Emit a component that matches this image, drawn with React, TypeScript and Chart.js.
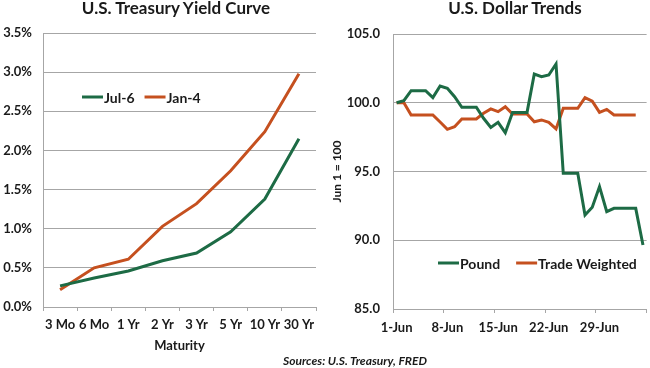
import React, { useEffect, useRef } from 'react';
import { Chart, registerables } from 'chart.js';

Chart.register(...registerables);

// ---------- Data ----------
const maturities = ['3 Mo', '6 Mo', '1 Yr', '2 Yr', '3 Yr', '5 Yr', '10 Yr', '30 Yr'];
const jul6Yields = [0.27, 0.37, 0.46, 0.59, 0.69, 0.96, 1.38, 2.15];
const jan4Yields = [0.22, 0.50, 0.61, 1.03, 1.32, 1.74, 2.24, 2.98];

const days = [
  '1-Jun', '2-Jun', '3-Jun', '4-Jun', '5-Jun', '6-Jun', '7-Jun',
  '8-Jun', '9-Jun', '10-Jun', '11-Jun', '12-Jun', '13-Jun', '14-Jun',
  '15-Jun', '16-Jun', '17-Jun', '18-Jun', '19-Jun', '20-Jun', '21-Jun',
  '22-Jun', '23-Jun', '24-Jun', '25-Jun', '26-Jun', '27-Jun', '28-Jun',
  '29-Jun', '30-Jun', '1-Jul', '2-Jul', '3-Jul', '4-Jul', '5-Jul',
];
const pound = [
  100.0, 100.15, 100.88, 100.88, 100.88, 100.37, 101.22,
  101.05, 100.44, 99.67, 99.67, 99.67, 98.87, 98.21,
  98.58, 97.82, 99.30, 99.30, 99.30, 102.09, 101.90,
  102.02, 102.82, 94.87, 94.87, 94.87, 91.84, 92.40,
  93.90, 92.08, 92.32, 92.32, 92.32, 92.32, 89.65,
];
const tradeWeighted = [
  100.0, 100.0, 99.11, 99.11, 99.11, 99.11, 98.6,
  98.07, 98.26, 98.82, 98.82, 98.82, 99.23, 99.55,
  99.35, 99.71, 99.18, 99.18, 99.18, 98.62, 98.75,
  98.58, 98.10, 99.60, 99.60, 99.60, 100.37, 100.12,
  99.30, 99.52, 99.11, 99.11, 99.11, 99.11, null,
];
const weeklyLabelEvery = 7;

// ---------- Styles ----------
const GREEN = '#1d6b45';
const ORANGE = '#c5501f';
const GRID = '#a6a6a6';
const TXT = '#1a1a1a';
const FONT = 'Lato';

Chart.defaults.font.family = FONT;

const insideLegend = {
  id: 'insideLegend',
  afterDraw(chart: any, _args: any, opts: any) {
    const { ctx, chartArea } = chart;
    ctx.save();
    ctx.font = `bold ${opts.size}px ${FONT}`;
    ctx.textBaseline = 'middle';
    let x = chartArea.left + opts.x;
    const y = chartArea.top + opts.y;
    chart.data.datasets.forEach((ds: any) => {
      ctx.strokeStyle = ds.borderColor;
      ctx.lineWidth = 3;
      ctx.beginPath();
      ctx.moveTo(x, y);
      ctx.lineTo(x + opts.lineLen, y);
      ctx.stroke();
      x += opts.lineLen + 1;
      ctx.fillStyle = TXT;
      ctx.fillText(ds.label, x, y + 1);
      x += ctx.measureText(ds.label).width + opts.gap;
    });
    ctx.restore();
  },
};

function ChartCanvas({ config, left, top, width, height }: any) {
  const ref = useRef<HTMLCanvasElement>(null);
  useEffect(() => {
    const chart = new Chart(ref.current as HTMLCanvasElement, config);
    return () => chart.destroy();
  }, []);
  return (
    <canvas
      ref={ref}
      width={width}
      height={height}
      style={{ position: 'absolute', left, top, width, height }}
    />
  );
}

const tickFont = { size: 13, weight: 'bold' as const };

const yieldConfig: any = {
  type: 'line',
  data: {
    labels: maturities,
    datasets: [
      { label: 'Jul-6', data: jul6Yields, borderColor: GREEN, borderWidth: 3, pointRadius: 0, tension: 0 },
      { label: 'Jan-4', data: jan4Yields, borderColor: ORANGE, borderWidth: 3, pointRadius: 0, tension: 0 },
    ],
  },
  options: {
    responsive: false,
    animation: false,
    layout: { padding: { top: 33, left: 0, right: 9, bottom: 0 } },
    plugins: {
      legend: { display: false },
      tooltip: { enabled: false },
      insideLegend: { x: 39, y: 64, size: 14, lineLen: 21, gap: 10 },
    },
    scales: {
      x: {
        offset: true,
        afterFit: (s: any) => { s.height = 47; },
        grid: { offset: true, drawOnChartArea: false, drawTicks: true, tickLength: 4, color: GRID },
        border: { color: GRID },
        ticks: { padding: 6, color: TXT, font: tickFont, maxRotation: 0, minRotation: 0, autoSkip: false },
        title: { display: true, text: 'Maturity', color: TXT, font: { size: 13, weight: 'bold' }, padding: { top: 2, bottom: 0 } },
      },
      y: {
        min: 0,
        max: 3.5,
        afterFit: (s: any) => { s.width = 43; },
        ticks: {
          stepSize: 0.5,
          padding: 11,
          color: TXT,
          font: tickFont,
          callback: (v: number) => v.toFixed(1) + '%',
        },
        grid: { color: GRID, drawTicks: false },
        border: { color: GRID },
      },
    },
  },
  plugins: [insideLegend],
};

const dollarConfig: any = {
  type: 'line',
  data: {
    labels: days,
    datasets: [
      { label: 'Pound', data: pound, borderColor: GREEN, borderWidth: 3, pointRadius: 0, tension: 0 },
      { label: 'Trade Weighted', data: tradeWeighted, borderColor: ORANGE, borderWidth: 3, pointRadius: 0, tension: 0 },
    ],
  },
  options: {
    responsive: false,
    animation: false,
    layout: { padding: { top: 34, left: 5, right: 2, bottom: 0 } },
    plugins: {
      legend: { display: false },
      tooltip: { enabled: false },
      insideLegend: { x: 45, y: 229, size: 14, lineLen: 21, gap: 16 },
    },
    scales: {
      x: {
        offset: true,
        afterFit: (s: any) => { s.height = 27; },
        grid: {
          offset: true,
          drawOnChartArea: false,
          drawTicks: true,
          tickLength: 4,
          color: (ctx: any) =>
            ctx.index === undefined || ctx.index % weeklyLabelEvery === 0 ? GRID : 'rgba(0,0,0,0)',
        },
        border: { color: GRID },
        ticks: {
          padding: 7,
          color: TXT,
          font: tickFont,
          maxRotation: 0,
          minRotation: 0,
          autoSkip: false,
          callback: (_v: any, i: number) => (i % weeklyLabelEvery === 0 ? days[i] : ''),
        },
      },
      y: {
        min: 85,
        max: 105,
        afterFit: (s: any) => { s.width = 63; },
        ticks: {
          stepSize: 5,
          padding: 13,
          color: TXT,
          font: tickFont,
          callback: (v: number) => v.toFixed(1),
        },
        grid: { color: GRID, drawTicks: false },
        border: { color: GRID },
        title: { display: true, text: 'Jun 1 = 100', color: TXT, font: { size: 12, weight: 'bold' }, padding: { top: 0, bottom: 3 } },
      },
    },
  },
  plugins: [insideLegend],
};

const titleStyle: any = {
  position: 'absolute',
  top: -2,
  width: 300,
  textAlign: 'center',
  fontFamily: FONT,
  fontWeight: 'bold',
  fontSize: 17,
  lineHeight: '20px',
  color: TXT,
};

export default function App() {
  return (
    <div style={{ position: 'absolute', left: 0, top: 0, width: 650, height: 368, overflow: 'hidden', background: '#fff' }}>
      <ChartCanvas config={yieldConfig} left={0} top={0} width={325} height={354} />
      <ChartCanvas config={dollarConfig} left={325} top={0} width={325} height={336} />
      <div style={{ ...titleStyle, left: 176 - 150 }}>U.S. Treasury Yield Curve</div>
      <div style={{ ...titleStyle, left: 515 - 150 }}>U.S. Dollar Trends</div>
      <div
        style={{
          position: 'absolute',
          left: 355 - 150,
          width: 300,
          top: 353,
          textAlign: 'center',
          fontFamily: FONT,
          fontWeight: 'bold',
          fontStyle: 'italic',
          fontSize: 12,
          lineHeight: '15px',
          color: TXT,
        }}
      >
        Sources: U.S. Treasury, FRED
      </div>
    </div>
  );
}
